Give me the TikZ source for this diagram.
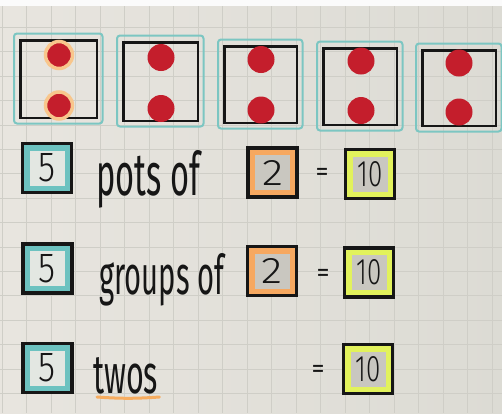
\documentclass[tikz,border=0pt]{standalone}
\usepackage{fontspec}
\usepackage{graphicx}
\newfontfamily\hand{Fira Sans}
\newfontfamily\handlight{Fira Sans Light}
\definecolor{ink}{HTML}{161616}
\definecolor{bgL}{HTML}{E8E5DF}
\definecolor{bgR}{HTML}{DCDBD4}
\definecolor{gridc}{HTML}{CFCEC7}
\definecolor{dotred}{HTML}{C41E2C}
\definecolor{glow}{HTML}{F8C68C}
\definecolor{potteal}{HTML}{7CC6C2}
\definecolor{bandteal}{HTML}{6CC2C0}
\definecolor{bandorange}{HTML}{F6A860}
\definecolor{bandlime}{HTML}{E2F25C}
\definecolor{innerlight}{HTML}{E3E7E2}
\definecolor{innergray}{HTML}{C9C7C0}
\definecolor{uorange}{HTML}{F7AD60}
\begin{document}
\begin{tikzpicture}[x=1pt,y=-1pt,
  pot/.style={draw=ink, line width=2.5pt, inner sep=0},
  potline/.style={draw=potteal, line width=2pt, rounded corners=3pt},
  dot/.style={circle, fill=dotred, minimum size=27pt, inner sep=0},
  glowdot/.style={dot, draw=glow, line width=3.5pt},
  numbox/.style 2 args={draw=ink, line width=3.5pt, minimum size=49pt, inner sep=0,
    fill=#1, font=\handlight, text=ink,
    path picture={\fill[#2] ([shift={(7pt,7pt)}]path picture bounding box.south west)
      rectangle ([shift={(-7pt,-7pt)}]path picture bounding box.north east);}},
  word/.style={inner sep=0, font=\hand, text=ink, anchor=base west},
  eq/.style={inner sep=0, font=\hand\fontsize{26}{26}\selectfont, text=ink},
  uline/.style={draw=uorange, line width=3pt, line cap=round}
]
\useasboundingbox (0,0) rectangle (502,413);
% paper
\fill[left color=bgL, right color=bgR] (0,6) rectangle (502,413);
\fill[white!97!gray] (0,0) rectangle (502,6);
\foreach \k in {0,...,20} {\draw[gridc, line width=0.6pt] (1.8+24.5*\k,6) -- (1.8+24.5*\k,413);}
\foreach \k in {1,...,16} {\draw[gridc, line width=0.6pt] (0,2.9+24.4*\k) -- (502,2.9+24.4*\k);}
% pots
\node[pot, minimum width=76.5pt, minimum height=77.5pt] (p1) at (58.5,79) {};
\node[pot, minimum width=74.5pt, minimum height=78.5pt] (p2) at (160.5,81.5) {};
\node[pot, minimum width=72.5pt, minimum height=76.5pt] (p3) at (260.5,84.5) {};
\node[pot, minimum width=73.5pt, minimum height=76.5pt] (p4) at (360,86.5) {};
\node[pot, minimum width=73.5pt, minimum height=75.5pt] (p5) at (459,88) {};
\foreach \p in {p1,p2,p3,p4,p5} {
  \draw[potline] ([shift={(-5pt,-4.5pt)}]\p.south west) rectangle ([shift={(4.5pt,5.5pt)}]\p.north east);
}
% dots
\node[glowdot] (d1a) at (59,55) {};
\node[glowdot] (d1b) at (59,105.5) {};
\node[dot] (d2a) at (161,57.5) {};
\node[dot] (d2b) at (161,108.5) {};
\node[dot] (d3a) at (261,59.5) {};
\node[dot] (d3b) at (261,110) {};
\node[dot] (d4a) at (361,61) {};
\node[dot] (d4b) at (361,110.5) {};
\node[dot] (d5a) at (459,63) {};
\node[dot] (d5b) at (459,112) {};
% row 1
\node[numbox={bandteal}{innerlight}] (a1) at (47,168) {\resizebox{17pt}{28pt}{5}};
\node[word] (w1) at (96,195) {\resizebox{104pt}{45pt}{pots of}};
\node[numbox={bandorange}{innergray}] (b1) at (272.5,172.5) {\resizebox{21pt}{25pt}{2}};
\node[eq] (e1) at (322,174) {=};
\node[numbox={bandlime}{innergray}] (c1) at (370,174) {\resizebox{25pt}{25pt}{10}};
% row 2
\node[numbox={bandteal}{innerlight}] (a2) at (47.5,268.5) {\resizebox{17pt}{28pt}{5}};
\node[word] (w2) at (99,294) {\resizebox{125pt}{41pt}{groups of}};
\node[numbox={bandorange}{innergray}] (b2) at (272,271) {\resizebox{21pt}{25pt}{2}};
\node[eq] (e2) at (323,275) {=};
\node[numbox={bandlime}{innergray}] (c2) at (369,272.5) {\resizebox{25pt}{25pt}{10}};
% row 3
\node[numbox={bandteal}{innerlight}] (a3) at (47.5,368) {\resizebox{17pt}{28pt}{5}};
\node[word] (w3) at (93,393) {\resizebox{65pt}{36pt}{twos}};
\draw[uline] ([shift={(4pt,-4pt)}]w3.base west) to[bend right=4] ([shift={(1pt,-4pt)}]w3.base east);
\node[eq] (e3) at (318,371) {=};
\node[numbox={bandlime}{innergray}] (c3) at (368,369) {\resizebox{25pt}{25pt}{10}};
\end{tikzpicture}
\end{document}
